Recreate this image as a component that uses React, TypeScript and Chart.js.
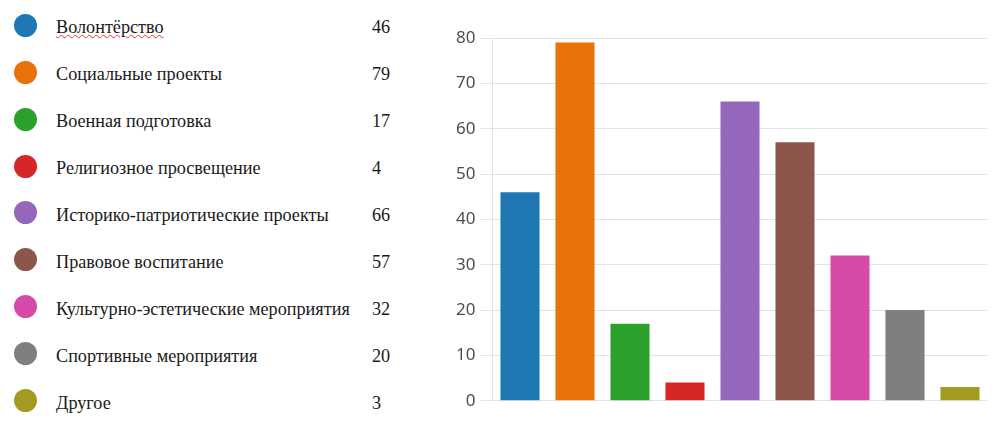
import React, { useEffect, useRef } from "react";
import { Chart, registerables } from "chart.js";

Chart.register(...registerables);

const categories: string[] = [
  "Волонтёрство",
  "Социальные проекты",
  "Военная подготовка",
  "Религиозное просвещение",
  "Историко-патриотические проекты",
  "Правовое воспитание",
  "Культурно-эстетические мероприятия",
  "Спортивные мероприятия",
  "Другое",
];

const values: number[] = [46, 79, 17, 4, 66, 57, 32, 20, 3];

const colors: string[] = [
  "#1f77b4",
  "#e8710a",
  "#2ca02c",
  "#d62728",
  "#9467bd",
  "#8c564b",
  "#d64ba9",
  "#7f7f7f",
  "#a39b1f",
];

const yMin = 0;
const yMax = 80;
const yStep = 10;

function BarChart() {
  const ref = useRef<HTMLCanvasElement | null>(null);
  useEffect(() => {
    if (!ref.current) return;
    const chart = new Chart(ref.current, {
      type: "bar",
      data: {
        labels: categories,
        datasets: [
          {
            data: values,
            backgroundColor: colors,
            borderWidth: 0,
            barPercentage: 0.71,
            categoryPercentage: 1.0,
          },
        ],
      },
      options: {
        animation: false,
        responsive: false,
        maintainAspectRatio: false,
        layout: { padding: { top: 38, right: 12.5, bottom: 24.3, left: 0 } },
        plugins: { legend: { display: false }, tooltip: { enabled: false } },
        scales: {
          x: {
            display: false,
            grid: { display: false },
          },
          y: {
            min: yMin,
            max: yMax,
            ticks: {
              stepSize: yStep,
              padding: 5,
              color: "#4d4d4d",
              font: { family: "'Noto Sans', 'Open Sans', sans-serif", size: 17 },
            },
            grid: {
              color: "#e3e3e3",
              lineWidth: 1,
              tickLength: 12,
              drawTicks: true,
            },
            border: { display: true, color: "#e3e3e3", width: 1 },
            afterFit: (scale: any) => {
              scale.width = 72.5;
            },
          },
        },
      },
    });
    return () => chart.destroy();
  }, []);
  return (
    <canvas
      ref={ref}
      width={580}
      height={425}
      style={{ position: "absolute", left: 420, top: 0, width: 580, height: 425 }}
    />
  );
}

export default function App() {
  const rowStart = 25.3;
  const rowGap = 46.9;
  const textStyle: React.CSSProperties = {
    position: "absolute",
    height: 24,
    lineHeight: "24px",
    fontFamily: "'Liberation Serif', 'Times New Roman', serif",
    fontSize: 18.2,
    color: "#1a1a1a",
    whiteSpace: "nowrap",
  };
  return (
    <div
      style={{
        position: "absolute",
        left: 0,
        top: 0,
        width: 1000,
        height: 425,
        background: "#ffffff",
        overflow: "hidden",
      }}
    >
      {categories.map((c, i) => {
        const cy = rowStart + i * rowGap;
        return (
          <React.Fragment key={c}>
            <div
              style={{
                position: "absolute",
                left: 13.5,
                top: cy - 11.5,
                width: 23,
                height: 23,
                borderRadius: "50%",
                background: colors[i],
              }}
            />
            <div
              style={{
                ...textStyle,
                left: 56,
                top: cy - 12 + 2,
                textDecoration: i === 0 ? "underline wavy #e03030" : "none",
                textDecorationThickness: i === 0 ? "1px" : undefined,
              }}
            >
              {c}
            </div>
            <div style={{ ...textStyle, left: 372, top: cy - 12 + 2 }}>{values[i]}</div>
          </React.Fragment>
        );
      })}
      <BarChart />
    </div>
  );
}
